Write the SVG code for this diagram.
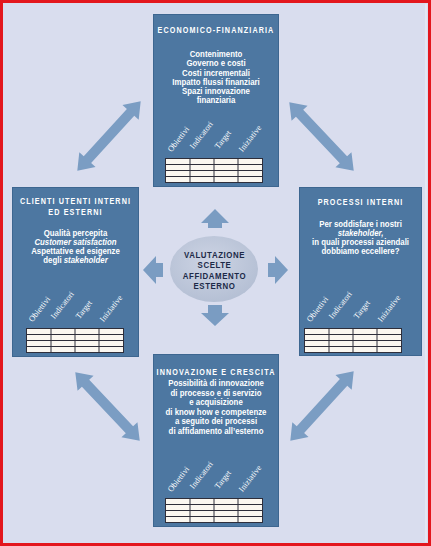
<svg xmlns="http://www.w3.org/2000/svg" width="431" height="546" viewBox="0 0 431 546">
<defs>
<style>
.box{fill:#4d77a1;stroke:#3d6690;stroke-width:1}
.ttl{font-family:"Liberation Sans",sans-serif;font-weight:bold;font-size:9px;fill:#fff;text-anchor:middle;letter-spacing:1.4px}
.bd{font-family:"Liberation Sans",sans-serif;font-weight:bold;font-size:9.8px;fill:#fff;text-anchor:middle}
.it{font-style:italic}
.hd{font-family:"Liberation Serif",serif;font-size:8.3px;fill:#fff}
.tb{fill:#fbf7f0;stroke:#2e2e3a;stroke-width:1}
.tl{stroke:#2e2e3a;stroke-width:1}
.big{fill:#7b9dc3}
.sm{fill:#7a9cc2}
.ctr{font-family:"Liberation Sans",sans-serif;font-weight:bold;font-size:9.6px;fill:#1c2a48;text-anchor:middle;letter-spacing:0.7px}
</style>
<radialGradient id="eg" cx="0.45" cy="0.4" r="0.65">
<stop offset="0" stop-color="#cdd4e4"/>
<stop offset="1" stop-color="#b3bed3"/>
</radialGradient>
<polygon id="dbl" points="-47,0 -32,-11 -32,-5 32,-5 32,-11 47,0 32,11 32,5 -32,5 -32,11"/>
<g id="tbl">
<rect class="tb" x="0" y="0" width="97" height="24"/>
<line class="tl" x1="0" y1="6" x2="97" y2="6"/>
<line class="tl" x1="0" y1="12" x2="97" y2="12"/>
<line class="tl" x1="0" y1="18" x2="97" y2="18"/>
<line class="tl" x1="24.5" y1="0" x2="24.5" y2="24"/>
<line class="tl" x1="48.5" y1="0" x2="48.5" y2="24"/>
<line class="tl" x1="72.5" y1="0" x2="72.5" y2="24"/>
<text class="hd" transform="translate(6,-6) rotate(-52)">Obiettivi</text>
<text class="hd" transform="translate(28,-9) rotate(-52)">Indicatori</text>
<text class="hd" transform="translate(53,-9) rotate(-52)">Target</text>
<text class="hd" transform="translate(77,-6) rotate(-52)">Iniziative</text>
</g>
</defs>
<rect x="0" y="0" width="431" height="546" fill="#d9ddee"/>
<rect x="1.5" y="1.5" width="428" height="543" fill="none" stroke="#e3161d" stroke-width="3"/>
<line x1="426" y1="4" x2="426" y2="542" stroke="#eef0f8" stroke-width="1"/>

<g id="connectors">
<use href="#dbl" class="big" transform="translate(109,136) rotate(-47.6)"/>
<use href="#dbl" class="big" transform="translate(321.5,136.5) rotate(46.7)"/>
<use href="#dbl" class="big" transform="translate(107.5,406.5) rotate(46.7)"/>
<use href="#dbl" class="big" transform="translate(322,406) rotate(-47.6)"/>
<polygon class="sm" points="215,209 229,223 222,223 222,228 208,228 208,223 201,223"/>
<polygon class="sm" points="208,305 222,305 222,313 229,313 215,326 201,313 208,313"/>
<polygon class="sm" points="143,270 156,256 156,263 163,263 163,277 156,277 156,284"/>
<polygon class="sm" points="288,270 275,256 275,263 268,263 268,277 275,277 275,284"/>
</g>

<g id="center">
<ellipse cx="214" cy="269" rx="44" ry="33" fill="url(#eg)"/>
<g transform="translate(214.5,0) scale(0.82,1)">
<text class="ctr" x="0" y="258">VALUTAZIONE</text>
<text class="ctr" x="0" y="268.5">SCELTE</text>
<text class="ctr" x="0" y="279">AFFIDAMENTO</text>
<text class="ctr" x="0" y="289.5">ESTERNO</text>
</g>
</g>

<g id="economico">
<rect class="box" x="153.5" y="14.5" width="125" height="172"/>
<g transform="translate(216,0) scale(0.8,1)">
<text class="ttl" x="0" y="33.5">ECONOMICO-FINANZIARIA</text>
<text class="bd" x="0" y="57">Contenimento</text>
<text class="bd" x="0" y="66.3">Governo e costi</text>
<text class="bd" x="0" y="75.6">Costi incrementali</text>
<text class="bd" x="0" y="84.9">Impatto flussi finanziari</text>
<text class="bd" x="0" y="94.2">Spazi innovazione</text>
<text class="bd" x="0" y="103.5">finanziaria</text>
</g>
<use href="#tbl" transform="translate(165.5,158.5)"/>
</g>

<g id="clienti">
<rect class="box" x="12.5" y="187.5" width="126" height="169"/>
<g transform="translate(75.5,0) scale(0.8,1)">
<text class="ttl" x="0" y="204.5">CLIENTI UTENTI INTERNI</text>
<text class="ttl" x="0" y="215.5">ED ESTERNI</text>
<text class="bd" x="0" y="236.5">Qualità percepita</text>
<text class="bd it" x="0" y="245.3">Customer satisfaction</text>
<text class="bd" x="0" y="254.1">Aspettative ed esigenze</text>
<text class="bd" x="0" y="262.9">degli <tspan class="it">stakeholder</tspan></text>
</g>
<use href="#tbl" transform="translate(26.5,328.5)"/>
</g>

<g id="processi">
<rect class="box" x="299.5" y="187.5" width="122" height="168"/>
<g transform="translate(360.5,0) scale(0.8,1)">
<text class="ttl" x="0" y="205.5">PROCESSI INTERNI</text>
<text class="bd" x="0" y="227.5">Per soddisfare i nostri</text>
<text class="bd it" x="0" y="236.5">stakeholder,</text>
<text class="bd" x="0" y="245.5">in quali processi aziendali</text>
<text class="bd" x="0" y="254.5">dobbiamo eccellere?</text>
</g>
<use href="#tbl" transform="translate(304.5,328.5)"/>
</g>

<g id="innovazione">
<rect class="box" x="153.5" y="354.5" width="125" height="172"/>
<g transform="translate(216,0) scale(0.8,1)">
<text class="ttl" x="0" y="375.5">INNOVAZIONE E CRESCITA</text>
<text class="bd" x="0" y="386.5">Possibilità di innovazione</text>
<text class="bd" x="0" y="396">di processo e di servizio</text>
<text class="bd" x="0" y="405.5">e acquisizione</text>
<text class="bd" x="0" y="415">di know how e competenze</text>
<text class="bd" x="0" y="424.5">a seguito dei processi</text>
<text class="bd" x="0" y="434">di affidamento all’esterno</text>
</g>
<use href="#tbl" transform="translate(165.5,498.5)"/>
</g>
</svg>
